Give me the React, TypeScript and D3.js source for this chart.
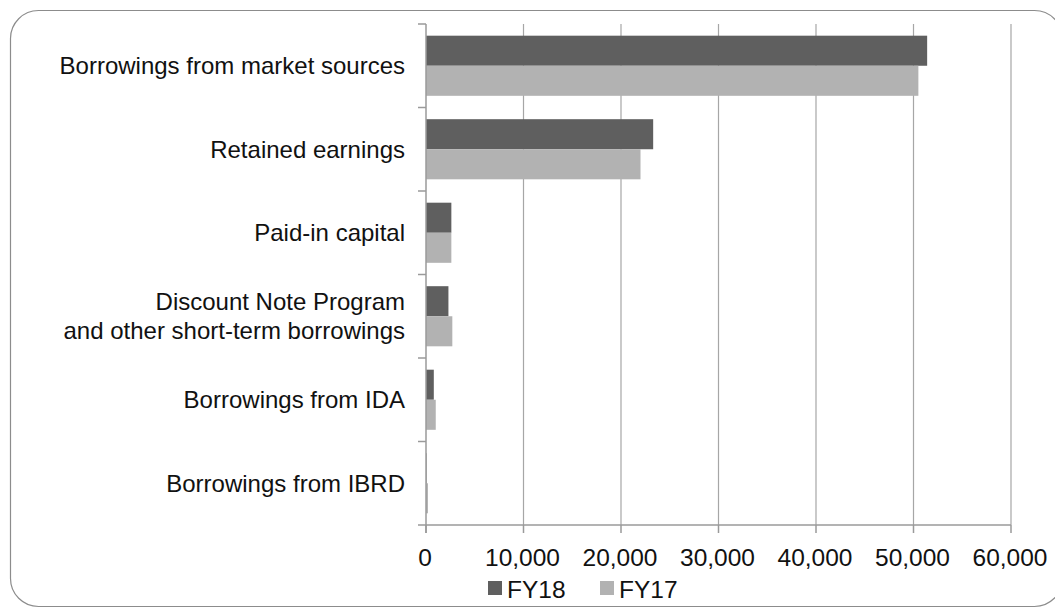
import React from "react";
import * as d3 from "d3";

const categories = [
  "Borrowings from market sources",
  "Retained earnings",
  "Paid-in capital",
  "Discount Note Program\nand other short-term borrowings",
  "Borrowings from IDA",
  "Borrowings from IBRD",
];
const fy18 = [51400, 23300, 2600, 2300, 800, 50];
const fy17 = [50500, 22000, 2600, 2700, 1000, 200];
const seriesNames = ["FY18", "FY17"];
const seriesColors = ["#5f5f5f", "#b2b2b2"];
const xTicks = [0, 10000, 20000, 30000, 40000, 50000, 60000];

export default function App() {
  const W = 1055, H = 613;
  const left = 426, right = 1011, top = 24, bottom = 525;
  const x = d3.scaleLinear().domain([0, 60000]).range([left, right]);
  const y = d3.scaleBand().domain(categories).range([top, bottom]).paddingInner(0).paddingOuter(0);
  const bw = y.bandwidth();
  const barH = bw * 0.36;
  const fmt = d3.format(",");
  const font = "'Liberation Sans', Arial, sans-serif";
  const series = [fy18, fy17];
  const boundaries = d3.range(categories.length + 1).map((i) => top + i * bw);
  return (
    <svg width={W} height={H} style={{ position: "absolute", left: 0, top: 0 }} fontFamily={font}>
      <rect x={0} y={0} width={W} height={H} fill="#fff" />
      <rect x={10.5} y={10.5} width={1052} height={596} rx={28} ry={28} fill="none" stroke="#8c8c8c" strokeWidth={1.2} />
      {xTicks.slice(1).map((t) => (
        <line key={t} x1={x(t)} x2={x(t)} y1={top} y2={bottom} stroke="#a6a6a6" strokeWidth={1.2} />
      ))}
      {categories.map((c, i) =>
        series.map((s, j) => (
          <rect
            key={c + j}
            x={x(0)}
            y={(y(c) as number) + bw / 2 - barH + j * barH}
            width={Math.max(0, x(s[i]) - x(0))}
            height={barH}
            fill={seriesColors[j]}
          />
        ))
      )}
      <line x1={left} x2={left} y1={top} y2={bottom + 8} stroke="#9a9a9a" strokeWidth={1.5} />
      <line x1={left} x2={right} y1={bottom} y2={bottom} stroke="#9a9a9a" strokeWidth={1.5} />
      {boundaries.map((b, i) => (
        <line key={i} x1={left - 8} x2={left} y1={b} y2={b} stroke="#9a9a9a" strokeWidth={1.5} />
      ))}
      {xTicks.map((t) => (
        <line key={t} x1={x(t)} x2={x(t)} y1={bottom} y2={bottom + 8} stroke="#9a9a9a" strokeWidth={1.5} />
      ))}
      {xTicks.map((t) => (
        <text key={t} x={x(t) - 1} y={566} textAnchor="middle" fontSize={24.5} fill="#111">
          {fmt(t)}
        </text>
      ))}
      {categories.map((c) => {
        const lines = c.split("\n");
        const cy = (y(c) as number) + bw / 2;
        return (
          <text key={c} x={405} textAnchor="end" fontSize={24} fill="#111">
            {lines.map((l, k) => (
              <tspan key={k} x={405} y={cy + 8.5 + (k - (lines.length - 1) / 2) * 29}>
                {l}
              </tspan>
            ))}
          </text>
        );
      })}
      {seriesNames.map((n, j) => (
        <g key={n} transform={`translate(${488 + j * 112},0)`}>
          <rect x={0} y={581} width={14} height={14} fill={seriesColors[j]} />
          <text x={19} y={598} fontSize={24.5} fill="#111">{n}</text>
        </g>
      ))}
    </svg>
  );
}
